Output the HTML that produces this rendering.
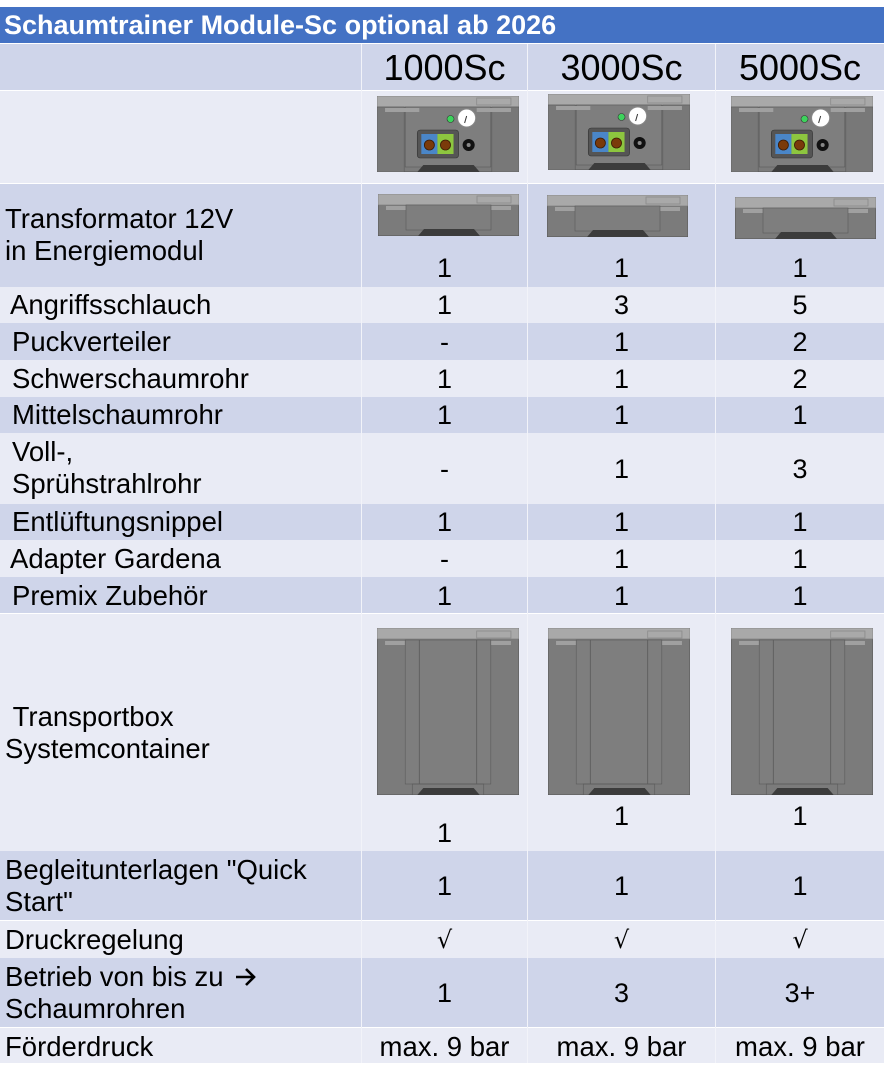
<!DOCTYPE html>
<html><head><meta charset="utf-8">
<style>
*{margin:0;padding:0;box-sizing:border-box}
body{width:886px;height:1080px;background:#fff;position:relative;overflow:hidden;font-family:"Liberation Sans",Arial,sans-serif;color:#000}
.r{position:absolute;left:0;width:884px}
.d{background:#CFD5EA}.l{background:#E9EBF5}
.t{position:absolute;font-size:27.5px;line-height:32px;white-space:nowrap}
.n{position:absolute;font-size:27px;line-height:32px;text-align:center}
svg{position:absolute}
.ck{font-family:"DejaVu Sans",sans-serif;font-size:24px}
</style></head><body>
<svg width="0" height="0" style="position:absolute">
<defs>
<symbol id="mod" viewBox="0 0 141 76" preserveAspectRatio="none">
<rect x="0" y="0" width="141" height="76" fill="#7b7b7b" stroke="#555" stroke-width="1"/>
<rect x="0" y="0" width="141" height="11" fill="#a9a9a9" stroke="#777" stroke-width=".6"/>
<rect x="99" y="2" width="34" height="7" fill="none" stroke="#8a8a8a" stroke-width=".8"/>
<rect x="0" y="11" width="27" height="65" fill="#787878" stroke="#5a5a5a" stroke-width=".6"/>
<rect x="114" y="11" width="27" height="65" fill="#787878" stroke="#5a5a5a" stroke-width=".6"/>
<rect x="28" y="11" width="85" height="60" fill="#7e7e7e" stroke="#5a5a5a" stroke-width=".6"/>
<rect x="8" y="12" width="34" height="4" fill="#a0a0a0"/>
<rect x="99" y="12" width="34" height="4" fill="#a0a0a0"/>
<circle cx="89" cy="22" r="9" fill="#fff" stroke="#888"/>
<line x1="89" y1="20" x2="87" y2="27" stroke="#333" stroke-width="1"/>
<circle cx="73" cy="23" r="3.5" fill="#3dd35c" stroke="#333" stroke-width=".6"/>
<rect x="40" y="34" width="41" height="28" rx="3" fill="#555" stroke="#333" stroke-width=".6"/>
<rect x="44" y="38" width="16" height="20" fill="#4a86c8"/>
<rect x="60" y="38" width="16" height="20" fill="#8dc63f"/>
<circle cx="52" cy="49" r="5" fill="#7a3a0a" stroke="#3a1a05" stroke-width=".8"/>
<circle cx="68" cy="49" r="5" fill="#7a3a0a" stroke="#3a1a05" stroke-width=".8"/>
<circle cx="91" cy="49" r="6" fill="#111"/><circle cx="91" cy="49" r="2" fill="#888"/>
<polygon points="40,76 46,69 96,69 102,76" fill="#3c3c3c"/>
</symbol>
<symbol id="tr" viewBox="0 0 141 42" preserveAspectRatio="none">
<rect x="0" y="0" width="141" height="42" fill="#7b7b7b" stroke="#555" stroke-width="1"/>
<rect x="0" y="0" width="141" height="11" fill="#a9a9a9" stroke="#777" stroke-width=".6"/>
<rect x="99" y="2" width="34" height="7" fill="none" stroke="#8a8a8a" stroke-width=".8"/>
<rect x="8" y="12" width="34" height="4" fill="#a0a0a0"/>
<rect x="99" y="12" width="34" height="4" fill="#a0a0a0"/>
<rect x="28" y="11" width="85" height="25" fill="#7e7e7e" stroke="#5a5a5a" stroke-width=".6"/>
<polygon points="40,42 46,35 96,35 102,42" fill="#3c3c3c"/>
</symbol>
<symbol id="box" viewBox="0 0 141 167" preserveAspectRatio="none">
<rect x="0" y="0" width="141" height="167" fill="#7b7b7b" stroke="#555" stroke-width="1"/>
<rect x="0" y="0" width="141" height="11" fill="#a9a9a9" stroke="#777" stroke-width=".6"/>
<rect x="99" y="3" width="34" height="7" fill="none" stroke="#8a8a8a" stroke-width=".8"/>
<rect x="8" y="13" width="34" height="4" fill="#a0a0a0"/>
<rect x="99" y="13" width="34" height="4" fill="#a0a0a0"/>
<rect x="28" y="12" width="85" height="144" fill="#7e7e7e" stroke="#5a5a5a" stroke-width=".6"/>
<line x1="42" y1="12" x2="42" y2="156" stroke="#5a5a5a" stroke-width=".8"/>
<line x1="99" y1="12" x2="99" y2="156" stroke="#5a5a5a" stroke-width=".8"/>
<rect x="35" y="156" width="71" height="11" fill="none" stroke="#5a5a5a" stroke-width=".6"/>
<polygon points="40,167 46,160 96,160 102,167" fill="#3c3c3c"/>
</symbol>
</defs></svg>

<div class="r" style="top:7px;height:36px;background:#4472C4"><div class="t" style="left:4px;top:2px;font-size:27px;font-weight:bold;color:#fff">Schaumtrainer Module-Sc optional ab 2026</div></div>

<div class="r d" style="top:44px;height:46px"></div>
<div class="r l" style="top:91px;height:92px"></div>
<div class="r d" style="top:184px;height:103px"></div>
<div class="r l" style="top:287px;height:36px"></div>
<div class="r d" style="top:323px;height:37px"></div>
<div class="r l" style="top:360px;height:37px"></div>
<div class="r d" style="top:397px;height:36px"></div>
<div class="r l" style="top:433px;height:71px"></div>
<div class="r d" style="top:504px;height:36px"></div>
<div class="r l" style="top:540px;height:37px"></div>
<div class="r d" style="top:577px;height:36px"></div>
<div class="r l" style="top:614px;height:237px"></div>
<div class="r d" style="top:851px;height:69px"></div>
<div class="r l" style="top:921px;height:37px"></div>
<div class="r d" style="top:958px;height:69px"></div>
<div class="r l" style="top:1028px;height:35px"></div>
<div style="position:absolute;left:361px;top:44px;width:1px;height:1019px;background:#f2f3f9"></div>
<div style="position:absolute;left:527px;top:44px;width:1px;height:1019px;background:#f2f3f9"></div>
<div style="position:absolute;left:715px;top:44px;width:1px;height:1019px;background:#f2f3f9"></div>

<div class="n" style="left:362px;width:165px;top:48px;font-size:36px;line-height:40px">1000Sc</div>
<div class="n" style="left:528px;width:187px;top:48px;font-size:36px;line-height:40px">3000Sc</div>
<div class="n" style="left:716px;width:168px;top:48px;font-size:36px;line-height:40px">5000Sc</div>

<svg style="left:377px;top:96px" width="142" height="76"><use href="#mod" width="142" height="76"/></svg>
<svg style="left:548px;top:94px" width="142" height="76"><use href="#mod" width="142" height="76"/></svg>
<svg style="left:731px;top:96px" width="142" height="76"><use href="#mod" width="142" height="76"/></svg>
<svg style="left:378px;top:194px" width="141" height="42"><use href="#tr" width="141" height="42"/></svg>
<svg style="left:547px;top:195px" width="141" height="42"><use href="#tr" width="141" height="42"/></svg>
<svg style="left:735px;top:197px" width="141" height="42"><use href="#tr" width="141" height="42"/></svg>
<svg style="left:377px;top:628px" width="142" height="167"><use href="#box" width="142" height="167"/></svg>
<svg style="left:548px;top:628px" width="142" height="167"><use href="#box" width="142" height="167"/></svg>
<svg style="left:731px;top:628px" width="142" height="167"><use href="#box" width="142" height="167"/></svg>

<div class="t" style="left:5px;top:203px">Transformator 12V<br>in Energiemodul</div>
<div class="t" style="left:10px;top:289px">Angriffsschlauch</div>
<div class="t" style="left:12px;top:326px">Puckverteiler</div>
<div class="t" style="left:12px;top:363px">Schwerschaumrohr</div>
<div class="t" style="left:12px;top:399px">Mittelschaumrohr</div>
<div class="t" style="left:12px;top:436px">Voll-,<br>Sprühstrahlrohr</div>
<div class="t" style="left:12px;top:506px">Entlüftungsnippel</div>
<div class="t" style="left:10px;top:543px">Adapter Gardena</div>
<div class="t" style="left:12px;top:580px">Premix Zubehör</div>
<div class="t" style="left:5px;top:701px">&nbsp;Transportbox<br>Systemcontainer</div>
<div class="t" style="left:5px;top:854px">Begleitunterlagen "Quick<br>Start"</div>
<div class="t" style="left:5px;top:924px">Druckregelung</div>
<div class="t" style="left:5px;top:961px">Betrieb von bis zu<br>Schaumrohren</div>
<svg style="left:234px;top:966px" width="24" height="22"><path d="M2 11 H20 M12 3 L20 11 L12 19" fill="none" stroke="#000" stroke-width="2.6"/></svg>
<div class="t" style="left:5px;top:1031px">Förderdruck</div>

<div class="n" style="left:362px;width:165px;top:252px">1</div><div class="n" style="left:528px;width:187px;top:252px">1</div><div class="n" style="left:716px;width:168px;top:252px">1</div>
<div class="n" style="left:362px;width:165px;top:289px">1</div><div class="n" style="left:528px;width:187px;top:289px">3</div><div class="n" style="left:716px;width:168px;top:289px">5</div>
<div class="n" style="left:362px;width:165px;top:326px">-</div><div class="n" style="left:528px;width:187px;top:326px">1</div><div class="n" style="left:716px;width:168px;top:326px">2</div>
<div class="n" style="left:362px;width:165px;top:363px">1</div><div class="n" style="left:528px;width:187px;top:363px">1</div><div class="n" style="left:716px;width:168px;top:363px">2</div>
<div class="n" style="left:362px;width:165px;top:399px">1</div><div class="n" style="left:528px;width:187px;top:399px">1</div><div class="n" style="left:716px;width:168px;top:399px">1</div>
<div class="n" style="left:362px;width:165px;top:453px">-</div><div class="n" style="left:528px;width:187px;top:453px">1</div><div class="n" style="left:716px;width:168px;top:453px">3</div>
<div class="n" style="left:362px;width:165px;top:506px">1</div><div class="n" style="left:528px;width:187px;top:506px">1</div><div class="n" style="left:716px;width:168px;top:506px">1</div>
<div class="n" style="left:362px;width:165px;top:543px">-</div><div class="n" style="left:528px;width:187px;top:543px">1</div><div class="n" style="left:716px;width:168px;top:543px">1</div>
<div class="n" style="left:362px;width:165px;top:580px">1</div><div class="n" style="left:528px;width:187px;top:580px">1</div><div class="n" style="left:716px;width:168px;top:580px">1</div>
<div class="n" style="left:362px;width:165px;top:817px">1</div><div class="n" style="left:528px;width:187px;top:800px">1</div><div class="n" style="left:716px;width:168px;top:800px">1</div>
<div class="n" style="left:362px;width:165px;top:870px">1</div><div class="n" style="left:528px;width:187px;top:870px">1</div><div class="n" style="left:716px;width:168px;top:870px">1</div>
<div class="n ck" style="left:362px;width:165px;top:924px">√</div><div class="n ck" style="left:528px;width:187px;top:924px">√</div><div class="n ck" style="left:716px;width:168px;top:924px">√</div>
<div class="n" style="left:362px;width:165px;top:977px">1</div><div class="n" style="left:528px;width:187px;top:977px">3</div><div class="n" style="left:716px;width:168px;top:977px">3+</div>
<div class="n" style="left:362px;width:165px;top:1031px;font-size:27.5px">max. 9 bar</div><div class="n" style="left:528px;width:187px;top:1031px;font-size:27.5px">max. 9 bar</div><div class="n" style="left:716px;width:168px;top:1031px;font-size:27.5px">max. 9 bar</div>
</body></html>
